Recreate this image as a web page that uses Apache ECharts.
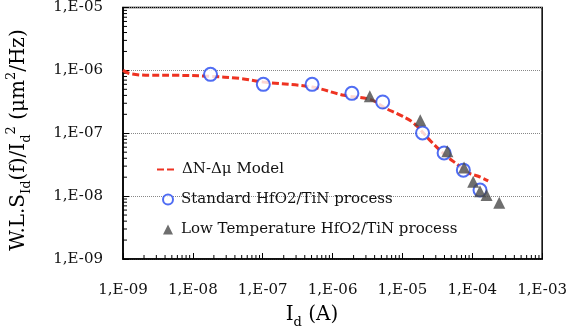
<!DOCTYPE html>
<html>
<head>
<meta charset="utf-8">
<script src="https://cdn.jsdelivr.net/npm/echarts@6/dist/echarts.min.js"></script>
<style>
  html, body { margin: 0; padding: 0; background: #fff; }
  #chart { width: 570px; height: 332px; }
</style>
</head>
<body>
<div id="chart"></div>
<script>
// Drain-current noise: normalised spectral density vs drain current (log-log)
const xTickLabels = ['1,E-09', '1,E-08', '1,E-07', '1,E-06', '1,E-05', '1,E-04', '1,E-03'];
const yTickLabels = ['1,E-09', '1,E-08', '1,E-07', '1,E-06', '1,E-05'];

// ΔN-Δμ model curve
const modelId = [1.0e-9, 1.26e-9, 2.43e-9, 5.5e-9, 1.73e-8, 4.64e-8, 1.02e-7, 5.1e-7, 1.45e-6, 3.52e-6,
                 5.77e-6, 8.83e-6, 1.44e-5, 2.52e-5, 4.12e-5, 6.32e-5, 8.78e-5, 1.22e-4, 1.69e-4];
const modelS  = [1.0e-6, 8.87e-7, 8.34e-7, 8.34e-7, 8.04e-7, 7.46e-7, 6.52e-7, 5.43e-7, 4.01e-7, 3.43e-7,
                 2.49e-7, 2.0e-7, 1.46e-7, 7.55e-8, 4.48e-8, 3.1e-8, 2.34e-8, 2.07e-8, 1.75e-8];

// Standard HfO2/TiN process
const stdId = [1.79e-8, 1.02e-7, 5.09e-7, 1.89e-6, 5.22e-6, 1.94e-5, 3.95e-5, 7.45e-5, 1.29e-4];
const stdS  = [8.65e-7, 6.0e-7, 6.0e-7, 4.31e-7, 3.14e-7, 1.01e-7, 4.86e-8, 2.59e-8, 1.25e-8];

// Low Temperature HfO2/TiN process
const ltId = [3.41e-6, 1.80e-5, 4.4e-5, 7.62e-5, 1.03e-4, 1.29e-4, 1.60e-4, 2.43e-4];
const ltS  = [3.86e-7, 1.61e-7, 5.18e-8, 2.86e-8, 1.69e-8, 1.20e-8, 1.04e-8, 7.83e-9];

const X_MIN = 1e-9, X_MAX = 1e-3, Y_MIN = 1e-9, Y_MAX = 1e-5;
const SERIF = 'DejaVu Serif';
const MODEL = 'ΔN-Δμ Model';
const STD = 'Standard HfO2/TiN process';
const LT = 'Low Temperature HfO2/TiN process';

const zip = (a, b) => a.map((v, i) => [v, b[i]]);
const expOf = v => Math.round(Math.log10(v));

// minor tick positions (2..9 within each decade)
function minorValues(lo, hi) {
  const out = [];
  for (let e = expOf(lo); e < expOf(hi); e++) {
    for (let m = 2; m <= 9; m++) out.push(m * Math.pow(10, e));
  }
  return out;
}
const xMinor = minorValues(X_MIN, X_MAX).map(v => [v, Y_MIN]);
const yMinor = minorValues(Y_MIN, Y_MAX).map(v => [X_MIN, v]);

const chart = echarts.init(document.getElementById('chart'), null, { renderer: 'canvas' });

const axisNameRich = {
  n:   { fontFamily: SERIF, fontSize: 20, lineHeight: 28, verticalAlign: 'middle', color: '#111' },
  sub: { fontFamily: SERIF, fontSize: 13, lineHeight: 15, verticalAlign: 'bottom', color: '#111' },
  sup: { fontFamily: SERIF, fontSize: 13, lineHeight: 15, verticalAlign: 'top', color: '#111' }
};

const legendText = {
  fontFamily: SERIF, fontSize: 15, color: '#111',
  rich: { p: { fontFamily: SERIF, fontSize: 15, color: '#111', padding: [0, 0, 0, 3] } }
};

chart.setOption({
  animation: false,
  backgroundColor: '#fff',
  grid: {
    left: 123, right: 26, top: 7, bottom: 73,
    show: true, borderColor: '#000', borderWidth: 1.5, backgroundColor: 'transparent'
  },
  xAxis: {
    type: 'log', logBase: 10, min: X_MIN, max: X_MAX, interval: 1,
    axisLine: { show: true, onZero: false, lineStyle: { color: '#000', width: 1.5 } },
    axisTick: { show: true, inside: true, length: 6, lineStyle: { color: '#000', width: 1 } },
    axisLabel: {
      margin: 24, color: '#111', fontFamily: SERIF, fontSize: 15,
      formatter: v => xTickLabels[expOf(v) - expOf(X_MIN)]
    },
    splitLine: { show: false }
  },
  yAxis: {
    type: 'log', logBase: 10, min: Y_MIN, max: Y_MAX, interval: 1,
    axisLine: { show: true, onZero: false, lineStyle: { color: '#000', width: 1.5 } },
    axisTick: { show: true, inside: true, length: 6, lineStyle: { color: '#000', width: 1 } },
    axisLabel: {
      margin: 20, color: '#111', fontFamily: SERIF, fontSize: 15, padding: [3, 0, 0, 0],
      formatter: v => yTickLabels[expOf(v) - expOf(Y_MIN)]
    },
    splitLine: { show: true, lineStyle: { color: '#888', width: 1, type: [1, 1] } }
  },
  legend: [
    {
      orient: 'vertical', left: 156, top: 162, padding: 0,
      itemWidth: 20, itemHeight: 14, itemGap: 16,
      textStyle: legendText,
      data: [{ name: MODEL, itemStyle: { opacity: 0 } }]
    },
    {
      orient: 'vertical', left: 162, top: 192, padding: 0,
      itemWidth: 10, itemHeight: 10, itemGap: 15, symbolKeepAspect: true,
      textStyle: legendText,
      formatter: name => '{p|' + name + '}',
      data: [STD, LT]
    }
  ],
  graphic: [
    {
      type: 'text', x: 312, y: 315, silent: true,
      style: {
        text: '{n|I}{sub|d}{n| (A)}', rich: axisNameRich,
        align: 'center', verticalAlign: 'middle'
      }
    },
    {
      type: 'text', x: 19, y: 140, rotation: Math.PI / 2, silent: true,
      style: {
        text: '{n|W.L.S}{sub|Id}{n|(f)/I}{sub|d}{sup|2}{n| (μm}{sup|2}{n|/Hz)}', rich: axisNameRich,
        align: 'center', verticalAlign: 'middle'
      }
    }
  ],
  series: [
    {
      type: 'custom', silent: true, z: 1, clip: false,
      data: xMinor,
      renderItem: (params, api) => {
        const p = api.coord([api.value(0), api.value(1)]);
        return { type: 'line', shape: { x1: p[0], y1: p[1], x2: p[0], y2: p[1] - 4 },
                 style: { stroke: '#000', lineWidth: 1 } };
      }
    },
    {
      type: 'custom', silent: true, z: 1, clip: false,
      data: yMinor,
      renderItem: (params, api) => {
        const p = api.coord([api.value(0), api.value(1)]);
        return { type: 'line', shape: { x1: p[0], y1: p[1], x2: p[0] + 4, y2: p[1] },
                 style: { stroke: '#000', lineWidth: 1 } };
      }
    },
    {
      name: MODEL, type: 'line', z: 2,
      data: zip(modelId, modelS),
      symbol: 'none', smooth: 0.35,
      lineStyle: { color: '#ee3322', width: 3, type: [7, 3] },
      itemStyle: { color: '#ee3322' }
    },
    {
      name: STD, type: 'scatter', z: 3,
      data: zip(stdId, stdS),
      symbol: 'emptyCircle', symbolSize: 13,
      itemStyle: { color: '#2448f0', borderWidth: 1.2 }
    },
    {
      name: LT, type: 'scatter', z: 4,
      data: zip(ltId, ltS),
      symbol: 'triangle', symbolSize: [12, 12],
      itemStyle: { color: '#4a4a4a' }
    }
  ]
});
</script>
</body>
</html>
